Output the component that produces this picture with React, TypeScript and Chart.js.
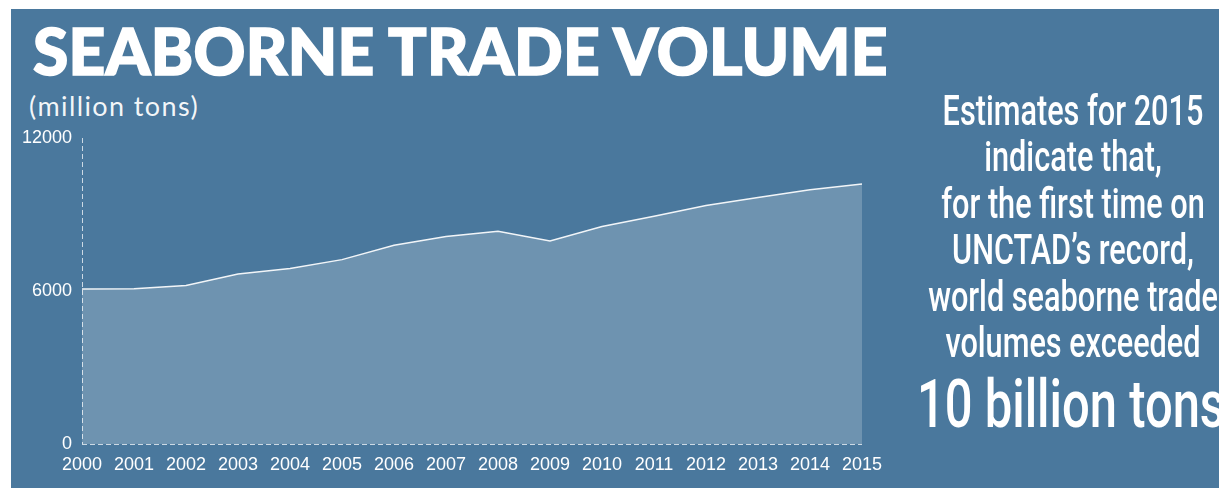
import React, { useEffect, useRef } from "react";
import { Chart, registerables } from "chart.js";

Chart.register(...registerables);

const years = ["2000", "2001", "2002", "2003", "2004", "2005", "2006", "2007", "2008", "2009", "2010", "2011", "2012", "2013", "2014", "2015"];
const volumes = [6080, 6090, 6220, 6670, 6880, 7230, 7790, 8140, 8340, 7960, 8530, 8930, 9350, 9670, 9970, 10200];
const yTicks = [0, 6000, 12000];
const titleText = "SEABORNE TRADE VOLUME";
const unitText = "(million tons)";
const noteLines = ["Estimates for 2015", "indicate that,", "for the first time on", "UNCTAD\u2019s record,", "world seaborne trade", "volumes exceeded"];
const noteHighlight = "10 billion tons";

const BG = "#4a789d";
const AXIS = "rgba(255,255,255,0.72)";

export default function App() {
  const canvasRef = useRef<HTMLCanvasElement | null>(null);

  useEffect(() => {
    const canvas = canvasRef.current;
    if (!canvas) return;
    const chart = new Chart(canvas, {
      type: "line",
      data: {
        labels: years,
        datasets: [
          {
            data: volumes,
            fill: "origin",
            backgroundColor: "rgba(255,255,255,0.2)",
            borderColor: "rgba(255,255,255,0.92)",
            borderWidth: 1.5,
            pointRadius: 0,
            pointHoverRadius: 0,
            tension: 0,
          },
        ],
      },
      options: {
        responsive: false,
        animation: false,
        events: [],
        layout: { padding: { left: 0, top: 138, right: 357, bottom: 0 } },
        plugins: { legend: { display: false }, tooltip: { enabled: false }, title: { display: false } },
        scales: {
          x: {
            type: "category",
            offset: false,
            grid: {
              display: true,
              drawTicks: false,
              lineWidth: 1,
              color: (ctx: any) => (ctx.index === 0 ? AXIS : "rgba(0,0,0,0)"),
            },
            border: { display: false, dash: [5, 3] },
            ticks: {
              color: "#ffffff",
              font: { family: "'Liberation Sans', Arial, sans-serif", size: 18 },
              padding: 10,
              maxRotation: 0,
              autoSkip: false,
            },
            afterFit: (s: any) => {
              s.height = 45;
            },
          },
          y: {
            min: 0,
            max: 12000,
            afterBuildTicks: (axis: any) => {
              axis.ticks = yTicks.map((v) => ({ value: v }));
            },
            grid: {
              display: true,
              drawTicks: false,
              lineWidth: 1,
              color: (ctx: any) => (ctx.tick && ctx.tick.value === 0 ? AXIS : "rgba(0,0,0,0)"),
            },
            border: { display: false, dash: [5, 3] },
            ticks: {
              color: "#ffffff",
              font: { family: "'Liberation Sans', Arial, sans-serif", size: 18 },
              padding: 10,
              callback: (v: any) => String(v),
            },
            afterFit: (s: any) => {
              s.width = 82;
            },
          },
        },
      },
    });
    return () => chart.destroy();
  }, []);

  const noteSize = 42;
  const noteGap = 46.5;
  const firstBase = 125;
  const bigSize = 67;
  const bigBase = 427;
  const squeeze = "scaleX(0.73)";

  return (
    <div style={{ position: "fixed", left: 0, top: 0, width: 1219, height: 489, overflow: "hidden", background: "#ffffff" }}>
      <div style={{ position: "absolute", left: 11, top: 9, width: 1208, height: 479, background: BG }} />
      <div
        style={{
          position: "absolute",
          left: 33,
          top: 74 - 0.867 * 64,
          fontFamily: "Lato, 'Noto Sans', sans-serif",
          fontWeight: 900,
          fontSize: 64,
          lineHeight: "64px",
          color: "#ffffff",
          whiteSpace: "nowrap",
          letterSpacing: "0.3px",
          WebkitTextStroke: "1.6px #ffffff",
        }}
      >
        {titleText}
      </div>
      <div
        style={{
          position: "absolute",
          left: 29,
          top: 115 - 0.867 * 27,
          fontFamily: "Lato, 'Noto Sans', sans-serif",
          fontWeight: 400,
          fontSize: 27,
          lineHeight: "27px",
          color: "rgba(255,255,255,0.95)",
          whiteSpace: "nowrap",
          letterSpacing: "1.4px",
        }}
      >
        {unitText}
      </div>
      <canvas ref={canvasRef} width={1219} height={489} style={{ position: "absolute", left: 0, top: 0, width: 1219, height: 489 }} />
      {noteLines.map((line, i) => (
        <div
          key={i}
          style={{
            position: "absolute",
            left: 1073 - 250,
            width: 500,
            top: firstBase + i * noteGap - 0.842 * noteSize,
            fontFamily: "Roboto, 'Noto Sans', sans-serif",
            fontWeight: 500,
            color: "#ffffff",
            textAlign: "center",
            fontSize: noteSize,
            lineHeight: `${noteSize}px`,
            whiteSpace: "nowrap",
            transform: squeeze,
            transformOrigin: "50% 50%",
          }}
        >
          {line}
        </div>
      ))}
      <div
        style={{
          position: "absolute",
          left: 1071 - 250,
          width: 500,
          top: bigBase - 0.842 * bigSize,
          fontFamily: "Roboto, 'Noto Sans', sans-serif",
          fontWeight: 500,
          color: "#ffffff",
          textAlign: "center",
          fontSize: bigSize,
          lineHeight: `${bigSize}px`,
          whiteSpace: "nowrap",
          transform: squeeze,
          transformOrigin: "50% 50%",
        }}
      >
        {noteHighlight}
      </div>
    </div>
  );
}
